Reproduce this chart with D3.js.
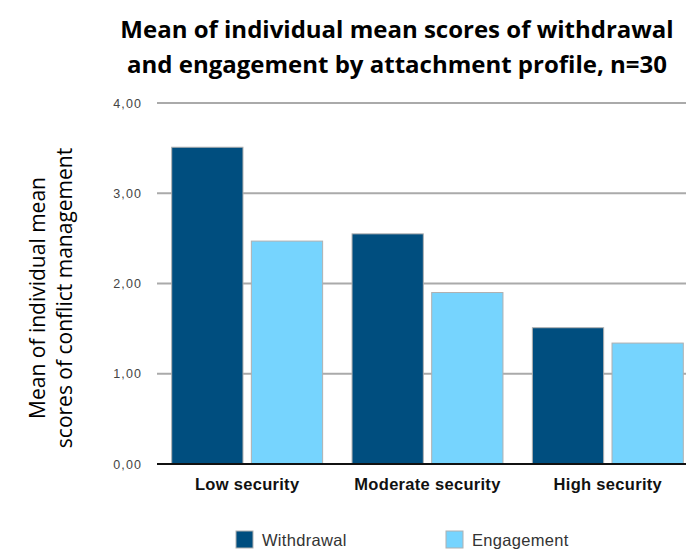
<!DOCTYPE html>
<html><head><meta charset="utf-8">
<script src="https://cdn.jsdelivr.net/npm/d3@7"></script>
<style>body{margin:0;background:#fff}svg{display:block}</style>
</head><body>
<svg id="c" width="686" height="551"></svg>
<script>
const categories = ["Low security", "Moderate security", "High security"];
const seriesNames = ["Withdrawal", "Engagement"];
const withdrawal = [3.51, 2.55, 1.51];
const engagement = [2.47, 1.90, 1.34];
const yTicks = [0, 1, 2, 3, 4];
const colors = ["#004e7f", "#76d4fe"];

const svg = d3.select("#c");
const x0 = d3.scaleBand().domain(categories).range([157, 698]).paddingInner(0.163).paddingOuter(0.0815);
const x1 = d3.scaleBand().domain(seriesNames).range([0, x0.bandwidth()]).paddingInner(0.105);
const y = d3.scaleLinear().domain([0, 4]).range([464, 103]);

// gridlines
svg.append("g").selectAll("line").data(yTicks.filter(d => d > 0)).join("line")
  .attr("x1", 157).attr("x2", 686).attr("y1", d => y(d)).attr("y2", d => y(d))
  .attr("stroke", "#aaa").attr("stroke-width", 2);

// y tick labels
svg.append("g").selectAll("text").data(yTicks).join("text")
  .attr("x", 142).attr("y", d => y(d) + 4.5).attr("text-anchor", "end")
  .attr("font-family", "Liberation Sans, Arial, sans-serif").attr("font-size", 12.5).attr("letter-spacing", 1.1).attr("fill", "#444")
  .text(d => d3.format(".2f")(d).replace(".", ","));

// bars
const data = categories.map((c, i) => ({c, vals: [withdrawal[i], engagement[i]]}));
const g = svg.append("g").selectAll("g").data(data).join("g").attr("transform", d => `translate(${x0(d.c)},0)`);
g.selectAll("rect").data(d => d.vals.map((v, j) => ({s: seriesNames[j], v, j}))).join("rect")
  .attr("x", d => x1(d.s)).attr("width", x1.bandwidth())
  .attr("y", d => y(d.v)).attr("height", d => y(0) - y(d.v))
  .attr("fill", d => colors[d.j]).attr("stroke", "#b0b0b0").attr("stroke-width", 1);

// baseline
svg.append("line").attr("x1", 157).attr("x2", 686).attr("y1", y(0)).attr("y2", y(0))
  .attr("stroke", "#111").attr("stroke-width", 2);

// category labels
svg.append("g").selectAll("text").data(categories).join("text")
  .attr("x", d => x0(d) + x0.bandwidth() / 2).attr("y", 490).attr("text-anchor", "middle")
  .attr("font-family", "Liberation Sans, Arial, sans-serif").attr("font-weight", "bold").attr("font-size", 16.5).attr("letter-spacing", 0.3).attr("fill", "#111")
  .text(d => d);

// title
const title = svg.append("text").attr("text-anchor", "middle")
  .attr("font-family", "Open Sans, sans-serif").attr("font-weight", "bold").attr("font-size", 24).attr("fill", "#000");
title.append("tspan").attr("x", 397).attr("y", 38).text("Mean of individual mean scores of withdrawal");
title.append("tspan").attr("x", 397).attr("y", 73).text("and engagement by attachment profile, n=30");

// y axis label
const yl = svg.append("text").attr("text-anchor", "middle").attr("transform", "translate(0,298) rotate(-90)")
  .attr("font-family", "Open Sans, sans-serif").attr("font-size", 21).attr("fill", "#000");
yl.append("tspan").attr("x", 0).attr("y", 45).text("Mean of individual mean");
yl.append("tspan").attr("x", 0).attr("y", 72).text("scores of conflict management");

// legend
const leg = svg.append("g").selectAll("g").data(seriesNames).join("g")
  .attr("transform", (d, i) => `translate(${[236, 446][i]},531)`);
leg.append("rect").attr("width", 17).attr("height", 17).attr("fill", (d, i) => colors[i]).attr("stroke", "#b0b0b0");
leg.append("text").attr("x", 26).attr("y", 15).attr("font-family", "Liberation Sans, Arial, sans-serif")
  .attr("font-size", 16.5).attr("letter-spacing", 0.3).attr("fill", "#333").text(d => d);
</script>
</body></html>
